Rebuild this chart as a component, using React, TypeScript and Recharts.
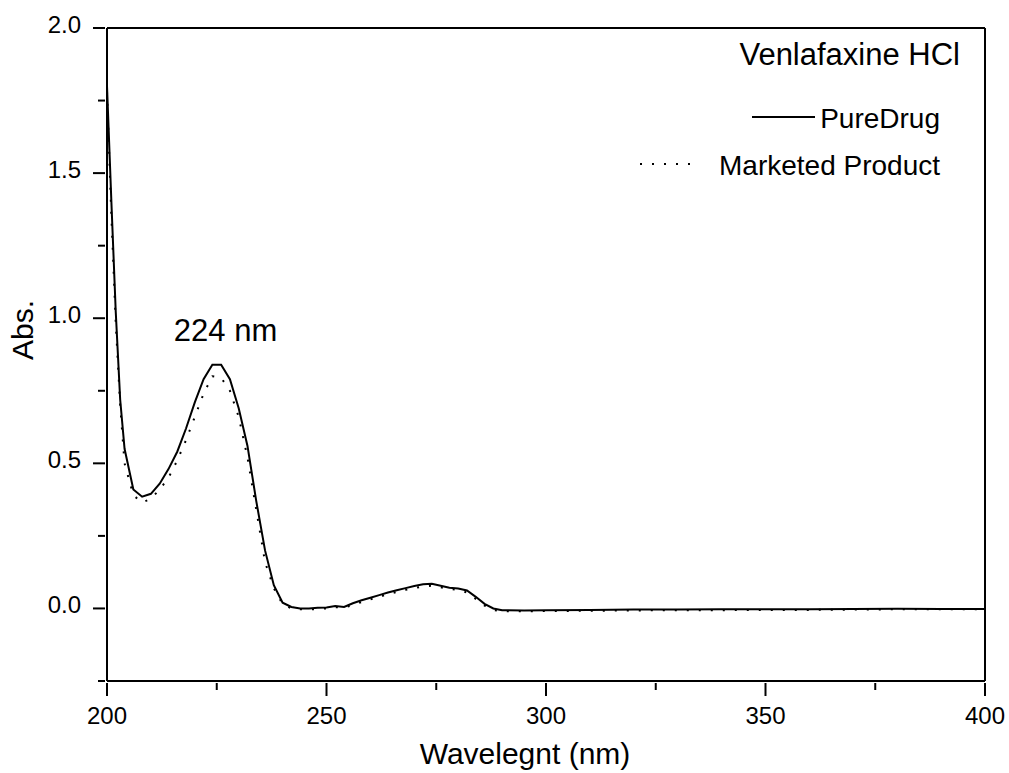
import React from 'react';
import { LineChart, Line, XAxis, YAxis, ReferenceLine, ReferenceDot } from 'recharts';

const wavelengths = [
  200, 201, 202, 203, 204, 206, 208, 210, 212, 214, 216, 218, 220, 222, 224, 226, 228, 230,
  232, 234, 236, 238, 240, 242, 244, 246, 248, 250, 252, 254, 256, 258, 260, 262, 264, 266,
  268, 270, 272, 274, 276, 278, 280, 282, 284, 286, 288, 290, 295, 300, 310, 320, 330, 340,
  350, 360, 370, 380, 390, 400,
];

const pureDrug = [
  1.80, 1.40, 1.02, 0.72, 0.55, 0.41, 0.385, 0.395, 0.43, 0.48, 0.54, 0.62, 0.71, 0.79, 0.84, 0.84, 0.79, 0.69,
  0.56, 0.37, 0.20, 0.08, 0.02, 0.005, 0.0, 0.0, 0.002, 0.003, 0.008, 0.005, 0.018, 0.028, 0.037, 0.046, 0.055, 0.063,
  0.07, 0.077, 0.083, 0.085, 0.078, 0.071, 0.069, 0.062, 0.04, 0.016, 0.0, -0.006, -0.007, -0.006, -0.005, -0.004, -0.004, -0.003,
  -0.003, -0.003, -0.002, -0.001, -0.002, -0.002,
];

const marketedProduct = [
  1.78, 1.35, 0.98, 0.70, 0.50, 0.39, 0.365, 0.378, 0.41, 0.45, 0.51, 0.58, 0.66, 0.74, 0.80, 0.795, 0.75, 0.66,
  0.52, 0.34, 0.16, 0.07, 0.015, 0.0, -0.003, -0.003, -0.002, 0.0, 0.004, 0.003, 0.012, 0.022, 0.031, 0.04, 0.049, 0.057,
  0.064, 0.07, 0.076, 0.078, 0.073, 0.067, 0.064, 0.055, 0.033, 0.01, -0.005, -0.01, -0.01, -0.009, -0.008, -0.007, -0.006, -0.006,
  -0.005, -0.005, -0.004, -0.003, -0.003, -0.003,
];

const xTicks = [200, 225, 250, 275, 300, 325, 350, 375, 400];
const xLabels = [200, 250, 300, 350, 400];
const yTicks = [-0.25, 0, 0.25, 0.5, 0.75, 1.0, 1.25, 1.5, 1.75, 2.0];
const yLabels = [0, 0.5, 1.0, 1.5, 2.0];

const chartData = wavelengths.map((w, i) => ({ w, pure: pureDrug[i], marketed: marketedProduct[i] }));

const FONT = '"Liberation Sans", Arial, sans-serif';

const XTick = ({ x, y, payload }: any) => {
  const major = xLabels.includes(payload.value);
  return (
    <g>
      <line x1={x} x2={x} y1={y} y2={y + (major ? 13 : 7)} stroke="#000" strokeWidth={2} />
      {major && (
        <text x={x} y={y + 41} textAnchor="middle" fontSize={24} fontFamily={FONT} fill="#000">
          {payload.value}
        </text>
      )}
    </g>
  );
};

const YTick = ({ x, y, payload }: any) => {
  const major = yLabels.includes(payload.value);
  return (
    <g>
      <line x1={x - (major ? 12 : 7)} x2={x} y1={y} y2={y} stroke="#000" strokeWidth={2} />
      {major && (
        <text x={x - 24} y={y + 5} textAnchor="end" fontSize={24} fontFamily={FONT} fill="#000">
          {payload.value.toFixed(1)}
        </text>
      )}
    </g>
  );
};

export default function App() {
  return (
    <div style={{ position: 'absolute', left: 0, top: 0, background: '#fff' }}>
      <LineChart width={1009} height={773} data={chartData} margin={{ top: 28, right: 24, left: 0, bottom: 0 }}>
        <XAxis
          dataKey="w"
          type="number"
          domain={[200, 400]}
          ticks={xTicks}
          interval={0}
          height={92}
          tickSize={0}
          tickLine={false}
          tick={<XTick />}
          axisLine={{ stroke: '#000', strokeWidth: 2 }}
        />
        <YAxis
          type="number"
          domain={[-0.25, 2.0]}
          ticks={yTicks}
          interval={0}
          width={107}
          tickSize={0}
          tickLine={false}
          tick={<YTick />}
          axisLine={{ stroke: '#000', strokeWidth: 2 }}
        />
        <ReferenceLine y={2.0} stroke="#000" strokeWidth={2} />
        <ReferenceLine x={400} stroke="#000" strokeWidth={2} />
        <Line
          dataKey="marketed"
          stroke="#000"
          strokeWidth={2}
          strokeDasharray="2 10"
          dot={false}
          isAnimationActive={false}
        />
        <Line dataKey="pure" stroke="#000" strokeWidth={2} dot={false} isAnimationActive={false} />
        <ReferenceDot
          x={227}
          y={0.96}
          r={0}
          fill="none"
          stroke="none"
          label={{ value: '224 nm', position: 'center', fontSize: 31, fontFamily: FONT, fill: '#000' }}
        />
        <g fontFamily={FONT} fill="#000">
          <text x={33} y={330} transform="rotate(-90 33 330)" textAnchor="middle" fontSize={30}>Abs.</text>
          <text x={525} y={764} textAnchor="middle" fontSize={30}>Wavelegnt (nm)</text>
          <text x={960} y={65} textAnchor="end" fontSize={31}>Venlafaxine HCl</text>
          <line x1={752} x2={815} y1={117} y2={117} stroke="#000" strokeWidth={2} />
          <text x={940} y={128} textAnchor="end" fontSize={28}>PureDrug</text>
          <line x1={640} x2={692} y1={164} y2={164} stroke="#000" strokeWidth={2} strokeDasharray="2 10" />
          <text x={940} y={175} textAnchor="end" fontSize={28}>Marketed Product</text>
        </g>
      </LineChart>
    </div>
  );
}
